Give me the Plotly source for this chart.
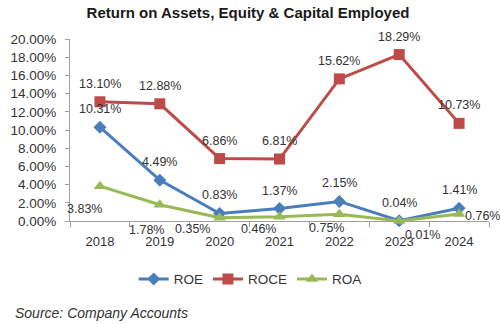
import plotly.graph_objects as go

years = ["2018", "2019", "2020", "2021", "2022", "2023", "2024"]
roe = [10.31, 4.49, 0.83, 1.37, 2.15, 0.04, 1.41]
roce = [13.10, 12.88, 6.86, 6.81, 15.62, 18.29, 10.73]
roa = [3.83, 1.78, 0.35, 0.46, 0.75, 0.01, 0.76]

# label pixel offsets (style, not data): (dx, dy) with dy positive = up
top_offset = (0, 18)
roa_offsets = [(-15, -23), (-13, -25), (-27, -11), (-21, -12), (-13, -14), (23, -14), (23, -2)]

font = "Liberation Sans, Arial, sans-serif"
label_font = dict(size=12.5, color="#333333", family=font)

fig = go.Figure()
fig.add_trace(go.Scatter(
    x=years, y=[v / 100 for v in roe], name="ROE", mode="lines+markers",
    line=dict(color="#4A7EBB", width=3),
    marker=dict(symbol="diamond", size=10, color="#4A7EBB")))
fig.add_trace(go.Scatter(
    x=years, y=[v / 100 for v in roce], name="ROCE", mode="lines+markers",
    line=dict(color="#BE4B48", width=3),
    marker=dict(symbol="square", size=11, color="#BE4B48")))
fig.add_trace(go.Scatter(
    x=years, y=[v / 100 for v in roa], name="ROA", mode="lines+markers",
    line=dict(color="#98B954", width=3),
    marker=dict(symbol="triangle-up", size=11, color="#98B954")))
fig.update_traces(cliponaxis=False)

annotations = []
# annotations on a category axis use the category index as x
for series in (roe, roce):
    for i, v in enumerate(series):
        annotations.append(dict(x=i, y=v / 100, xref="x", yref="y", text=f"{v:.2f}%",
                                showarrow=False, xshift=top_offset[0], yshift=top_offset[1],
                                font=label_font))
for i, (v, (dx, dy)) in enumerate(zip(roa, roa_offsets)):
    annotations.append(dict(x=i, y=v / 100, xref="x", yref="y", text=f"{v:.2f}%",
                            showarrow=False, xshift=dx, yshift=dy, font=label_font))

annotations.append(dict(text="<i>Source: Company Accounts</i>", xref="paper", yref="paper",
                        x=-0.136, y=-0.506, xanchor="left", yanchor="middle", showarrow=False,
                        font=dict(size=14, color="#333333", family=font)))

fig.update_layout(
    width=500, height=324,
    margin=dict(l=70, r=11, t=39, b=103),
    paper_bgcolor="white", plot_bgcolor="white",
    font=dict(family=font, size=12, color="#333333"),
    title=dict(text="<b>Return on Assets, Equity & Capital Employed</b>",
               x=0.496, xanchor="center", y=0.96, yanchor="middle",
               font=dict(size=15, color="#1a1a1a", family=font)),
    showlegend=True,
    legend=dict(orientation="h", x=0.43, xanchor="center", y=-0.32, yanchor="middle",
                font=dict(size=13.5, color="#333333", family=font), itemwidth=30),
    annotations=annotations,
)
fig.update_xaxes(type="category", categoryorder="array", categoryarray=years,
                 range=[-0.5, len(years) - 0.5],
                 showgrid=False, showline=True, linecolor="#A0A0A0", linewidth=1,
                 ticks="outside", tickson="boundaries", ticklen=5, tickcolor="#A0A0A0",
                 tickfont=dict(size=13, color="#333333"), ticklabelstandoff=8, zeroline=False)
fig.update_yaxes(range=[0, 0.2], dtick=0.02, tickformat=".2%", showgrid=False,
                 showline=True, linecolor="#A0A0A0", linewidth=1, ticks="outside",
                 ticklen=4, tickcolor="#A0A0A0", tickfont=dict(size=13.5, color="#333333"),
                 ticklabelstandoff=6, zeroline=False)

fig.write_html("out.html")
